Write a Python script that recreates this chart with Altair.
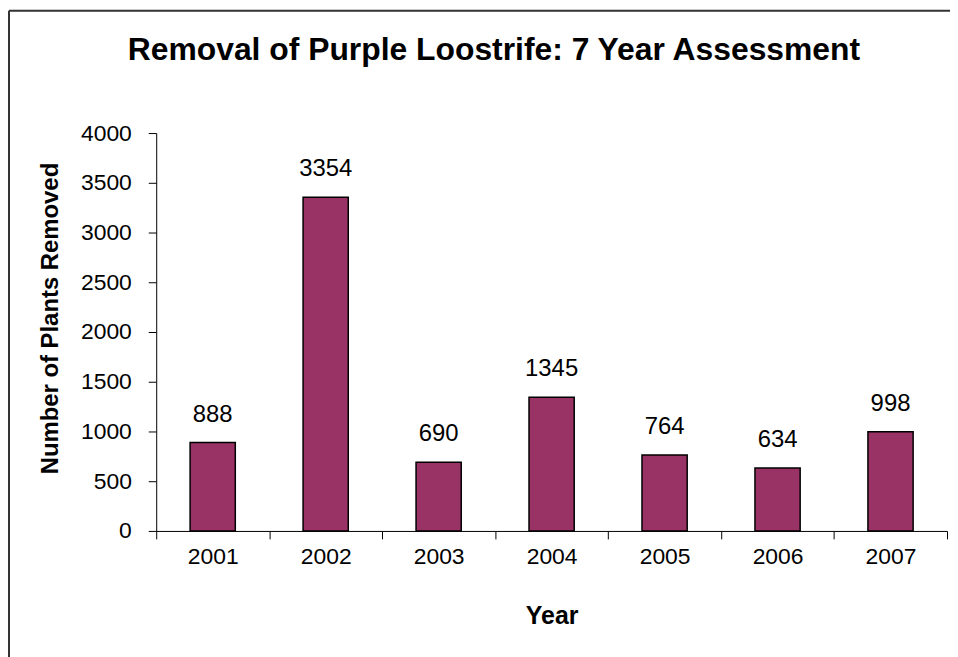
import altair as alt
import pandas as pd

years = ["2001", "2002", "2003", "2004", "2005", "2006", "2007"]
removed = [888, 3354, 690, 1345, 764, 634, 998]
y_ticks = [0, 500, 1000, 1500, 2000, 2500, 3000, 3500, 4000]

df = pd.DataFrame({"Year": years, "Removed": removed})
FONT = "Liberation Sans"

base = alt.Chart(df).encode(
    x=alt.X(
        "Year:N",
        sort=None,
        scale=alt.Scale(paddingInner=0, paddingOuter=0),
        axis=alt.Axis(
            title="Year",
            titleFontSize=25,
            titleFontWeight="bold",
            titleFont=FONT,
            titleColor="black",
            titlePadding=35,
            labelAngle=0,
            labelFontSize=23,
            labelFont=FONT,
            labelColor="black",
            labelPadding=7,
            tickBand="extent",
            tickSize=8,
            tickColor="black",
            domainColor="black",
            grid=False,
        ),
    ),
    y=alt.Y(
        "Removed:Q",
        scale=alt.Scale(domain=[0, 4000], nice=False),
        axis=alt.Axis(
            title="Number of Plants Removed",
            titleFontSize=24,
            titleFontWeight="bold",
            titleFont=FONT,
            titleColor="black",
            titlePadding=18,
            titleY=186,
            values=y_ticks,
            format="d",
            labelFontSize=23,
            labelFont=FONT,
            labelColor="black",
            labelPadding=17,
            tickSize=8,
            tickColor="black",
            domainColor="black",
            grid=False,
        ),
    ),
)

bars = base.mark_bar(
    color="#993366", stroke="black", strokeWidth=1.5, width=alt.RelativeBandSize(0.4)
)
labels = base.mark_text(
    dy=-21, baseline="alphabetic", fontSize=24, font=FONT, color="black"
).encode(text="Removed:Q")

frame_df = pd.DataFrame({"k": [0]})
left_border = alt.Chart(frame_df).mark_rule(color="#333333", strokeWidth=2).encode(
    x=alt.value(-148), y=alt.value(-123), y2=alt.value(540)
)
top_border = alt.Chart(frame_df).mark_rule(color="#333333", strokeWidth=2).encode(
    x=alt.value(-148), x2=alt.value(800), y=alt.value(-123)
)

chart = (
    alt.layer(bars, labels, left_border, top_border)
    .properties(
        width=795,
        height=400,
        autosize=alt.AutoSizeParams(type="none"),
        padding={"left": 149, "top": 124, "right": 3, "bottom": 125},
        background="white",
        title=alt.Title(
            "Removal of Purple Loostrife: 7 Year Assessment",
            fontSize=32,
            fontWeight="bold",
            font=FONT,
            color="black",
            anchor="middle",
            frame="group",
            dx=-58,
            offset=0,
            dy=58,
        ),
    )
    .configure_view(stroke=None)
)

chart.save("out.html", embed_options={"renderer": "svg", "actions": False})
